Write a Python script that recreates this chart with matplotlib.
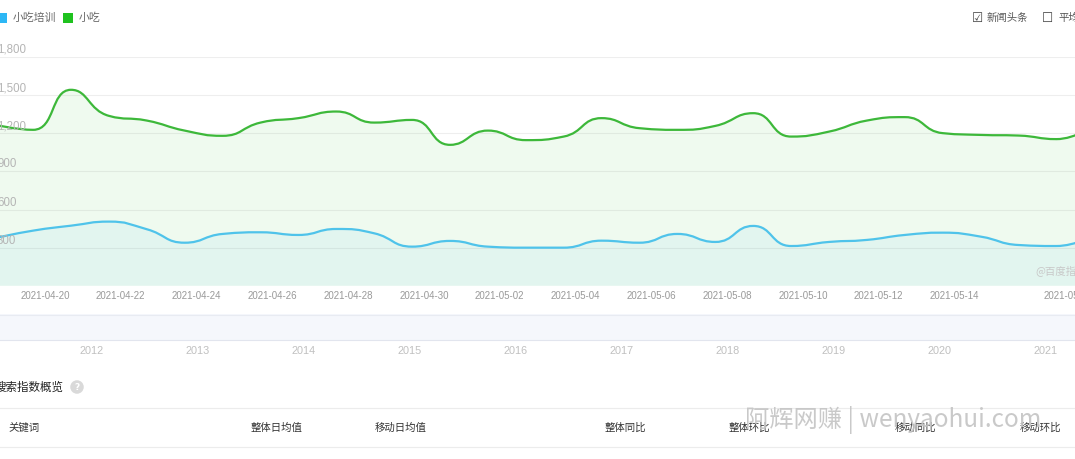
# Baidu index style chart: 小吃培训 vs 小吃, 2021-04-18 .. 2021-05-17
import numpy as np
import matplotlib
matplotlib.use("Agg")
import matplotlib.pyplot as plt
from matplotlib.path import Path
from matplotlib.patches import PathPatch, Rectangle
from matplotlib.lines import Line2D
import matplotlib.transforms as mtransforms

plt.rcParams['font.family'] = ['Noto Sans CJK SC', 'DejaVu Sans']

# ------------------------------------------------------------------
# data
dates = ['2021-04-18', '2021-04-19', '2021-04-20', '2021-04-21', '2021-04-22',
         '2021-04-23', '2021-04-24', '2021-04-25', '2021-04-26', '2021-04-27',
         '2021-04-28', '2021-04-29', '2021-04-30', '2021-05-01', '2021-05-02',
         '2021-05-03', '2021-05-04', '2021-05-05', '2021-05-06', '2021-05-07',
         '2021-05-08', '2021-05-09', '2021-05-10', '2021-05-11', '2021-05-12',
         '2021-05-13', '2021-05-14', '2021-05-15', '2021-05-16', '2021-05-17']
xiaochi = [1266, 1227, 1542, 1337, 1300, 1221, 1180, 1284, 1319, 1371,
           1284, 1305, 1109, 1221, 1146, 1174, 1319, 1240, 1227, 1258,
           1358, 1174, 1213, 1300, 1327, 1201, 1187, 1182, 1154, 1266]
peixun = [376, 434, 473, 505, 445, 339, 408, 421, 400, 447,
          413, 308, 353, 308, 300, 300, 355, 339, 408, 345,
          471, 313, 345, 361, 400, 418, 387, 321, 313, 400]
shown_dates = ['2021-04-20', '2021-04-22', '2021-04-24', '2021-04-26', '2021-04-28',
               '2021-04-30', '2021-05-02', '2021-05-04', '2021-05-06', '2021-05-08',
               '2021-05-10', '2021-05-12', '2021-05-14', '2021-05-17']
yticks = [300, 600, 900, 1200, 1500, 1800]
years = ['2011', '2012', '2013', '2014', '2015', '2016', '2017', '2018', '2019', '2020', '2021']
table_cols = ['关键词', '整体日均值', '移动日均值', '整体同比', '整体环比', '移动同比', '移动环比']

series_names = ['小吃培训', '小吃']
line_colors = ['#4fc3ea', '#3db83a']
legend_colors = ['#2db7f5', '#1fc21f']

# ------------------------------------------------------------------
W, H = 1075, 459
fig = plt.figure(figsize=(W / 100, H / 100), dpi=100)
fig.patch.set_facecolor('white')


def fx(px):
    return px / W


def fy(py):
    return 1 - py / H


# pixel scale of the plot: one day = 37.9 px, 300 units = 38.1 px
DAY_PX = 37.9
UNIT_PX = 38.1 / 300
x0 = dates.index('2021-04-20')

ax = fig.add_axes([0, fy(285.8), 1, (285.8 - 57) / H])
ax.set_xlim(x0 - 71 / DAY_PX, x0 + (W - 71) / DAY_PX)
ax.set_ylim(0, 1800)
for s in ax.spines.values():
    s.set_visible(False)
ax.set_yticks(yticks)
ax.set_yticklabels([])
ax.tick_params(axis='y', length=0)
ax.grid(axis='y', color='#eeeeee', linewidth=0.8)
ax.set_axisbelow(True)


def smooth_path(xs, ys, smooth=0.5):
    # echarts-like smoothed bezier with constraint (no overshoot)
    px = np.asarray(xs, float) * DAY_PX
    py = np.asarray(ys, float) * UNIT_PX
    n = len(px)
    verts = [(px[0], py[0])]
    codes = [Path.MOVETO]
    cpx0, cpy0 = px[0], py[0]
    for i in range(1, n):
        x, y = px[i], py[i]
        prevX, prevY = px[i - 1], py[i - 1]
        if i == n - 1:
            cpx1, cpy1 = x, y
            ncx, ncy = x, y
        else:
            nextX, nextY = px[i + 1], py[i + 1]
            vx, vy = nextX - prevX, nextY - prevY
            lp = np.hypot(x - prevX, y - prevY)
            ln = np.hypot(nextX - x, nextY - y)
            r = ln / (ln + lp)
            ncx = x + vx * smooth * r
            ncy = y + vy * smooth * r
            ncx = min(ncx, max(nextX, x)); ncx = max(ncx, min(nextX, x))
            ncy = min(ncy, max(nextY, y)); ncy = max(ncy, min(nextY, y))
            vx, vy = ncx - x, ncy - y
            cpx1 = x - vx * lp / ln
            cpy1 = y - vy * lp / ln
            cpx1 = min(cpx1, max(prevX, x)); cpx1 = max(cpx1, min(prevX, x))
            cpy1 = min(cpy1, max(prevY, y)); cpy1 = max(cpy1, min(prevY, y))
            vx, vy = x - cpx1, y - cpy1
            ncx = x + vx * ln / lp
            ncy = y + vy * ln / lp
        verts += [(cpx0, cpy0), (cpx1, cpy1), (x, y)]
        codes += [Path.CURVE4] * 3
        cpx0, cpy0 = ncx, ncy
    verts = np.array(verts) / [DAY_PX, UNIT_PX]
    return verts, codes


xs = np.arange(len(dates))
fills = [('#3ec53e', 0.08, xiaochi), ('#3fbfef', 0.07, peixun)]
for color, alpha, vals in fills:
    verts, codes = smooth_path(xs, vals)
    verts = np.vstack([verts, [[xs[-1], 0], [xs[0], 0], [xs[0], 0]]])
    codes = codes + [Path.LINETO, Path.LINETO, Path.CLOSEPOLY]
    ax.add_patch(PathPatch(Path(verts, codes), facecolor=color, alpha=alpha,
                           edgecolor='none', zorder=1))

for vals, color in [(peixun, line_colors[0]), (xiaochi, line_colors[1])]:
    verts, codes = smooth_path(xs, vals)
    ax.add_patch(PathPatch(Path(verts, codes), facecolor='none', edgecolor=color,
                           linewidth=1.6, zorder=3, capstyle='round'))

# x tick labels sit a little left of their points in the screenshot
label_pos = [dates.index(d) - 26 / DAY_PX for d in shown_dates]
ax.set_xticks(label_pos)
ax.set_xticklabels(shown_dates, fontsize=7, color='#999999', family='Liberation Sans')
ax.tick_params(axis='x', length=0, pad=4)

# y labels: left aligned, above the grid lines, cut by the figure edge
trans = mtransforms.blended_transform_factory(fig.transFigure, ax.transData)
for v in yticks:
    ax.text(fx(-3), v + 7 / UNIT_PX, f'{v:,}', transform=trans, fontsize=8.3,
            color='#b5b5b5', va='center', ha='left', family='Liberation Sans')

ax.text(fx(1035), fy(271), '@百度指数', transform=fig.transFigure, fontsize=7.5,
        color='#c8c8c8', va='center', ha='left')

# ------------------------------------------------------------------
# legend (top-left)
lx = [-3, 63]
tx = [13, 79]
for i in range(2):
    fig.add_artist(Rectangle((fx(lx[i]), fy(23)), 10 / W, 10 / H, transform=fig.transFigure,
                             facecolor=legend_colors[i], edgecolor='none'))
    fig.text(fx(tx[i]), fy(18), series_names[i], fontsize=7.8, color='#666666',
             va='center', ha='left')

# checkboxes (top-right)
fig.text(fx(972), fy(18), '\u2611', fontsize=9, color='#444444', va='center', ha='left',
         family=['DejaVu Sans'])
fig.text(fx(987), fy(18), '新闻头条', fontsize=7.5, color='#555555', va='center', ha='left')
fig.text(fx(1042), fy(18), '\u2610', fontsize=9, color='#444444', va='center', ha='left',
         family=['DejaVu Sans'])
fig.text(fx(1058), fy(18), '平均值', fontsize=7.5, color='#555555', va='center', ha='left')

# ------------------------------------------------------------------
# data zoom slider band with year labels
fig.add_artist(Rectangle((0, fy(340)), 1, 26 / H, transform=fig.transFigure,
                         facecolor='#f5f7fc', edgecolor='none'))
fig.add_artist(Line2D([0, 1], [fy(314.5), fy(314.5)], color='#e8ebf2', linewidth=0.8))
fig.add_artist(Line2D([0, 1], [fy(340), fy(340)], color='#e2e5ee', linewidth=0.8))
year_x = [-14 + 106 * i for i in range(len(years))]
for yx, yr in zip(year_x, years):
    fig.text(fx(yx), fy(351.5), yr, fontsize=7.8, color='#c0c0c0', va='center', ha='center',
             family='Liberation Sans')

# ------------------------------------------------------------------
# overview table header
fig.text(fx(-5), fy(387), '搜索指数概览', fontsize=8.3, color='#222222', va='center', ha='left')
fig.text(fx(77), fy(387), '?', fontsize=6.5, color='white', va='center', ha='center',
         family=['DejaVu Sans'], fontweight='bold',
         bbox=dict(boxstyle='circle,pad=0.25', facecolor='#d9d9d9', edgecolor='none'))
fig.add_artist(Line2D([0, 1], [fy(408), fy(408)], color='#ececec', linewidth=0.8))
fig.add_artist(Line2D([0, 1], [fy(447), fy(447)], color='#ececec', linewidth=0.8))
col_x = [8, 251, 375, 605, 729, 895, 1020]
for cx, name in zip(col_x, table_cols):
    fig.text(fx(cx), fy(428), name, fontsize=7.5, color='#333333', va='center', ha='left')

# watermark
fig.text(fx(745), fy(420), '阿辉网赚 | wenyaohui.com', fontsize=17.5, color='#c4c4c4',
         va='center', ha='left', alpha=0.9)

fig.savefig('out.png', dpi=100, facecolor='white')
